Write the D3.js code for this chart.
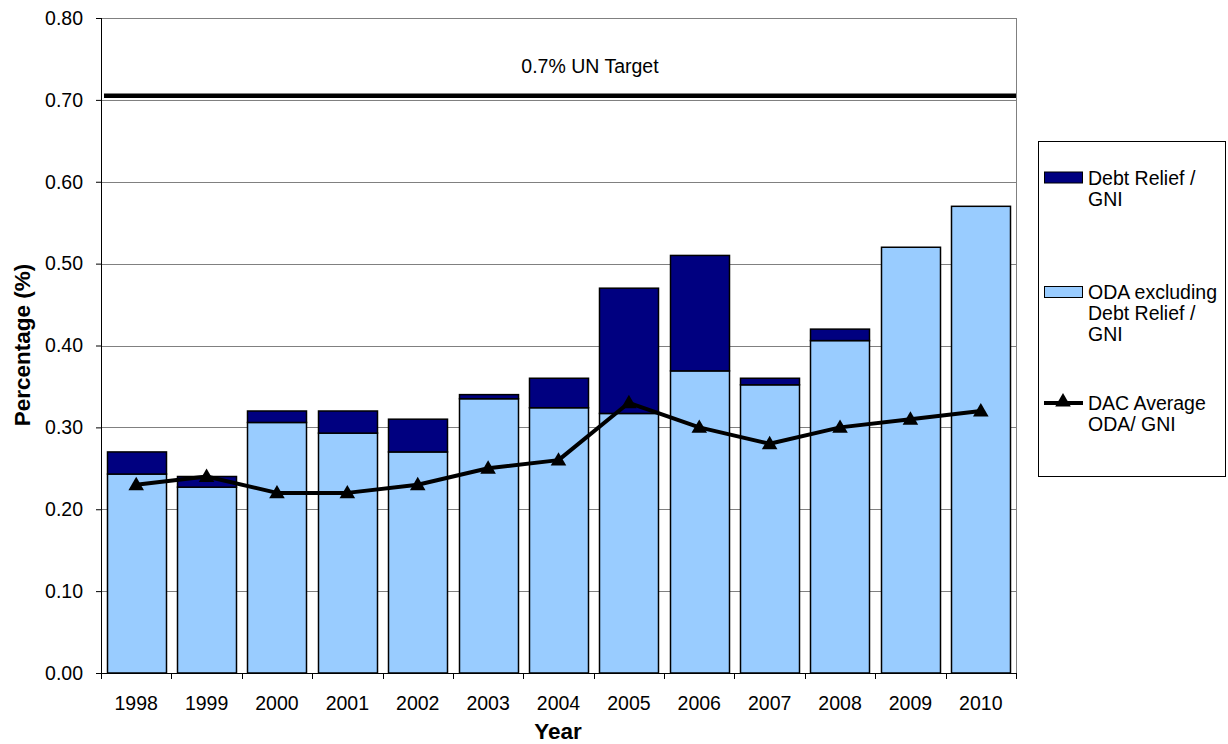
<!DOCTYPE html>
<html>
<head>
<meta charset="utf-8">
<script src="https://cdn.jsdelivr.net/npm/d3@7"></script>
<style>
body { margin: 0; background: #fff; }
text { font-family: "Liberation Sans", Arial, sans-serif; fill: #000; }
.tick text { font-size: 19.5px; }
.grid line { stroke: #808080; }
</style>
</head>
<body>
<script>
// values
var years = ["1998","1999","2000","2001","2002","2003","2004","2005","2006","2007","2008","2009","2010"];
var odaExDebt = [0.243, 0.227, 0.306, 0.293, 0.270, 0.335, 0.324, 0.317, 0.369, 0.352, 0.406, 0.520, 0.570];
var debtRelief = [0.027, 0.013, 0.014, 0.027, 0.040, 0.005, 0.036, 0.153, 0.141, 0.008, 0.014, 0, 0];
var dacAverage = [0.23, 0.24, 0.22, 0.22, 0.23, 0.25, 0.26, 0.33, 0.30, 0.28, 0.30, 0.31, 0.32];
var yTicks = [0, 0.1, 0.2, 0.3, 0.4, 0.5, 0.6, 0.7, 0.8];
var unTarget = 0.705;

var W = 1228, H = 744;
var pL = 101, pR = 1016, pT = 18, pB = 673;

var svg = d3.select("body").append("svg").attr("width", W).attr("height", H);

var x = d3.scaleBand().domain(years).range([pL, pR]).paddingInner(0.16).paddingOuter(0.08);
var y = d3.scaleLinear().domain([0, 0.8]).range([pB, pT]);

// gridlines
svg.append("g").attr("class", "grid").selectAll("line")
	.data(yTicks.filter(d => d > 0))
	.enter().append("line")
	.attr("x1", pL).attr("x2", pR)
	.attr("y1", d => Math.round(y(d)) + 0.5).attr("y2", d => Math.round(y(d)) + 0.5);

// right border of plot area
svg.append("line").attr("x1", pR + 0.5).attr("x2", pR + 0.5)
	.attr("y1", pT).attr("y2", pB).attr("stroke", "#808080");

// bars
var rows = years.map((yr, i) => ({ year: yr, base: odaExDebt[i], debt: debtRelief[i] }));

svg.append("g").selectAll("rect")
	.data(rows).enter().append("rect")
	.attr("x", d => Math.round(x(d.year)) + 0.5)
	.attr("width", Math.round(x.bandwidth()))
	.attr("y", d => y(d.base))
	.attr("height", d => y(0) - y(d.base))
	.attr("fill", "#99ccff").attr("stroke", "#000").attr("stroke-width", 1.5);

svg.append("g").selectAll("rect")
	.data(rows.filter(d => d.debt > 0)).enter().append("rect")
	.attr("x", d => Math.round(x(d.year)) + 0.5)
	.attr("width", Math.round(x.bandwidth()))
	.attr("y", d => y(d.base + d.debt))
	.attr("height", d => y(d.base) - y(d.base + d.debt))
	.attr("fill", "#000080").attr("stroke", "#000").attr("stroke-width", 1.5);

// UN target
svg.append("line").attr("x1", pL + 3).attr("x2", pR)
	.attr("y1", y(unTarget)).attr("y2", y(unTarget))
	.attr("stroke", "#000").attr("stroke-width", 4.5);
svg.append("text").attr("x", 590).attr("y", 73).attr("text-anchor", "middle")
	.style("font-size", "19.5px").text("0.7% UN Target");

// DAC average line
var line = d3.line().x((d, i) => x(years[i]) + x.bandwidth() / 2).y(d => y(d));
svg.append("path").datum(dacAverage).attr("d", line)
	.attr("fill", "none").attr("stroke", "#000").attr("stroke-width", 4).attr("stroke-linejoin", "round");

var tri = d3.symbol().type(d3.symbolTriangle).size(105);
svg.append("g").selectAll("path")
	.data(dacAverage).enter().append("path")
	.attr("d", tri)
	.attr("transform", (d, i) => "translate(" + (x(years[i]) + x.bandwidth() / 2) + "," + (y(d) + 1) + ")")
	.attr("fill", "#000");

// axes
var yAxis = svg.append("g").attr("transform", "translate(" + pL + ",0)")
	.call(d3.axisLeft(y).tickValues(yTicks).tickFormat(d3.format(".2f")).tickSize(5).tickPadding(13));
yAxis.select(".domain").attr("stroke", "#000").attr("d", "M0.5," + pT + "V" + pB);
yAxis.selectAll(".tick line").attr("stroke", "#000");

var xAxis = svg.append("g").attr("transform", "translate(0," + pB + ")")
	.call(d3.axisBottom(x).tickSize(0));
xAxis.select(".domain").attr("stroke", "#000").attr("d", "M" + pL + ",0.5H" + pR);
xAxis.selectAll(".tick text").attr("y", 37).attr("dy", null);

// ticks at category boundaries
svg.append("g").selectAll("line")
	.data(d3.range(years.length + 1)).enter().append("line")
	.attr("x1", i => Math.round(pL + i * (pR - pL) / years.length) + 0.5)
	.attr("x2", i => Math.round(pL + i * (pR - pL) / years.length) + 0.5)
	.attr("y1", pB).attr("y2", pB + 6).attr("stroke", "#000");

// axis titles
svg.append("text").attr("x", 558).attr("y", 739).attr("text-anchor", "middle")
	.style("font-size", "22.5px").style("font-weight", "bold").text("Year");
svg.append("text").attr("transform", "translate(30,345) rotate(-90)").attr("text-anchor", "middle")
	.style("font-size", "22.5px").style("font-weight", "bold").text("Percentage (%)");

// legend
var lg = svg.append("g");
lg.append("rect").attr("x", 1038.5).attr("y", 141.5).attr("width", 187).attr("height", 335)
	.attr("fill", "#fff").attr("stroke", "#000");

var legendItems = [
	{ lines: ["Debt Relief /", "GNI"], fill: "#000080", cy: 177.5 },
	{ lines: ["ODA excluding", "Debt Relief /", "GNI"], fill: "#99ccff", cy: 292 },
	{ lines: ["DAC Average", "ODA/ GNI"], line: true, cy: 403 }
];
legendItems.forEach(function(it) {
	if (it.line) {
		lg.append("line").attr("x1", 1044).attr("x2", 1083).attr("y1", it.cy).attr("y2", it.cy)
			.attr("stroke", "#000").attr("stroke-width", 4);
		lg.append("path").attr("d", tri).attr("transform", "translate(1063," + (it.cy - 1) + ")");
	} else {
		lg.append("rect").attr("x", 1044.5).attr("y", it.cy - 5.5).attr("width", 38).attr("height", 11)
			.attr("fill", it.fill).attr("stroke", "#000");
	}
	it.lines.forEach(function(t, j) {
		lg.append("text").attr("x", 1088).attr("y", it.cy + 7 + j * 21)
			.style("font-size", "19.5px").text(t);
	});
});
</script>
</body>
</html>
